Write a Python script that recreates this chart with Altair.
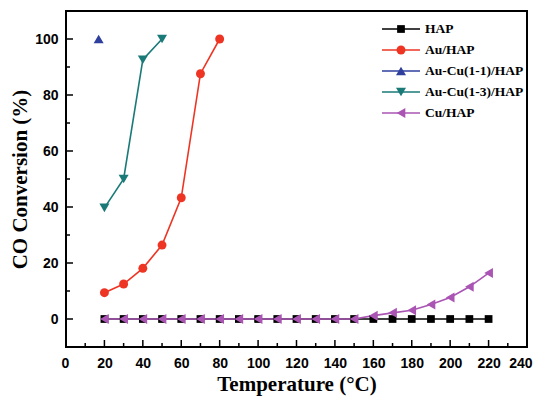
import altair as alt
import pandas as pd

# ---------------- data ----------------
series_names = ["HAP", "Au/HAP", "Au-Cu(1-1)/HAP", "Au-Cu(1-3)/HAP", "Cu/HAP"]
series_colors = ["#000000", "#ee3524", "#2e3f9e", "#1a7a78", "#aa55b4"]
series_shapes = ["square", "circle", "triangle-up", "triangle-down", "triangle-left"]
series_sizes = [60, 80, 100, 100, 100]

hap_t = [20, 30, 40, 50, 60, 70, 80, 90, 100, 110, 120, 130, 140, 150,
         160, 170, 180, 190, 200, 210, 220]
hap_v = [0, 0, 0, 0, 0, 0, 0, 0, 0, 0, 0, 0, 0, 0,
         0, 0, 0, 0, 0, 0, 0]

au_t = [20, 30, 40, 50, 60, 70, 80]
au_v = [9.4, 12.5, 18.1, 26.4, 43.3, 87.6, 100]

aucu11_t = [17]
aucu11_v = [100]

aucu13_t = [20, 30, 40, 50]
aucu13_v = [39.7, 50.0, 92.6, 100]

cu_t = [20, 30, 40, 50, 60, 70, 80, 90, 100, 110, 120, 130, 140, 150,
        160, 170, 180, 190, 200, 210, 220]
cu_v = [0, 0, 0, 0, 0, 0, 0, 0, 0, 0, 0, 0, 0, 0,
        1.2, 2.2, 3.1, 5.2, 7.7, 11.5, 16.4]

x_major = [0, 20, 40, 60, 80, 100, 120, 140, 160, 180, 200, 220, 240]
x_minor = [10, 30, 50, 70, 90, 110, 130, 150, 170, 190, 210, 230]
y_major = [0, 20, 40, 60, 80, 100]
y_minor = [10, 30, 50, 70, 90]

# ---------------- table ----------------
rows = []
for name, ts, vs in zip(series_names,
                        [hap_t, au_t, aucu11_t, aucu13_t, cu_t],
                        [hap_v, au_v, aucu11_v, aucu13_v, cu_v]):
    for t, v in zip(ts, vs):
        rows.append({"series": name, "temp": t, "conv": v})
df = pd.DataFrame(rows)
legend_df = pd.DataFrame({"series": series_names})

W, H = 461, 336
xscale = alt.Scale(domain=[0, 240], nice=False, zero=False)
yscale = alt.Scale(domain=[-10, 110], nice=False, zero=False)

xaxis = alt.Axis(values=x_major, title="Temperature (°C)", ticks=False, domain=False,
                 grid=False, labelPadding=9, titlePadding=3, labelFlush=True,
                 labelFlushOffset=5, labelOverlap=False)
yaxis = alt.Axis(values=y_major, title="CO Conversion (%)", ticks=False, domain=False,
                 grid=False, labelPadding=8, titlePadding=4, labelFlush=False)

X = alt.X("temp:Q", scale=xscale, axis=xaxis)
Y = alt.Y("conv:Q", scale=yscale, axis=yaxis)

color_scale = alt.Scale(domain=series_names, range=series_colors)

base = alt.Chart(df)

lines = base.mark_line(strokeWidth=1.6).encode(
    x=X, y=Y,
    color=alt.Color("series:N", scale=color_scale, legend=None),
    detail="series:N",
)

point_layers = []
for name, col, shp, sz in zip(series_names, series_colors, series_shapes, series_sizes):
    point_layers.append(
        base.transform_filter(alt.datum.series == name).mark_point(
            filled=True, opacity=1, shape=shp, color=col, size=sz
        ).encode(x=X, y=Y)
    )

xmaj = pd.DataFrame({"v": x_major})
xmin = pd.DataFrame({"v": x_minor})
ymaj = pd.DataFrame({"v": y_major})
ymin = pd.DataFrame({"v": y_minor})

tick_x_major = alt.Chart(xmaj).mark_rule(color="black", strokeWidth=1.5).encode(
    x=alt.X("v:Q", scale=xscale, axis=xaxis), y=alt.value(H), y2=alt.value(H - 7))
tick_x_minor = alt.Chart(xmin).mark_rule(color="black", strokeWidth=1.5).encode(
    x=alt.X("v:Q", scale=xscale, axis=xaxis), y=alt.value(H), y2=alt.value(H - 4))
tick_y_major = alt.Chart(ymaj).mark_rule(color="black", strokeWidth=1.5).encode(
    y=alt.Y("v:Q", scale=yscale, axis=yaxis), x=alt.value(0), x2=alt.value(7))
tick_y_minor = alt.Chart(ymin).mark_rule(color="black", strokeWidth=1.5).encode(
    y=alt.Y("v:Q", scale=yscale, axis=yaxis), x=alt.value(0), x2=alt.value(4))

data_layer = alt.layer(
    tick_x_major, tick_x_minor, tick_y_major, tick_y_minor,
    lines, *point_layers
)

# ---------------- legend (built from the series list) ----------------
leg_y = alt.Scale(type="point", domain=series_names, range=[18, 102], padding=0)
leg_base = alt.Chart(legend_df)
leg_lines = leg_base.mark_rule(strokeWidth=1.6).encode(
    y=alt.Y("series:N", scale=leg_y, axis=None),
    x=alt.value(316), x2=alt.value(354),
    color=alt.Color("series:N", scale=color_scale, legend=None),
)
leg_points = []
for name, col, shp, sz in zip(series_names, series_colors, series_shapes, series_sizes):
    leg_points.append(
        leg_base.transform_filter(alt.datum.series == name).mark_point(
            filled=True, opacity=1, shape=shp, color=col, size=sz
        ).encode(y=alt.Y("series:N", scale=leg_y, axis=None), x=alt.value(335))
    )
leg_text = leg_base.mark_text(
    align="left", baseline="middle", font="Liberation Serif", fontWeight="bold",
    fontSize=13.5, color="black"
).encode(
    y=alt.Y("series:N", scale=leg_y, axis=None), x=alt.value(359), text="series:N"
)
legend_layer = alt.layer(leg_lines, *leg_points, leg_text)

chart = alt.layer(data_layer, legend_layer).resolve_scale(
    y="independent", color="independent"
).properties(
    width=W, height=H,
    autosize=alt.AutoSizeParams(type="none"),
    padding={"left": 58, "top": 3, "right": 6, "bottom": 52},
    background="white",
).configure_view(
    stroke="black", strokeWidth=2
).configure_axis(
    labelFont="Liberation Sans", labelFontWeight="bold", labelFontSize=14,
    labelColor="black", titleFont="Liberation Serif", titleFontWeight="bold",
    titleFontSize=21, titleColor="black"
)

chart.save("out.html", embed_options={"renderer": "svg", "actions": False})
